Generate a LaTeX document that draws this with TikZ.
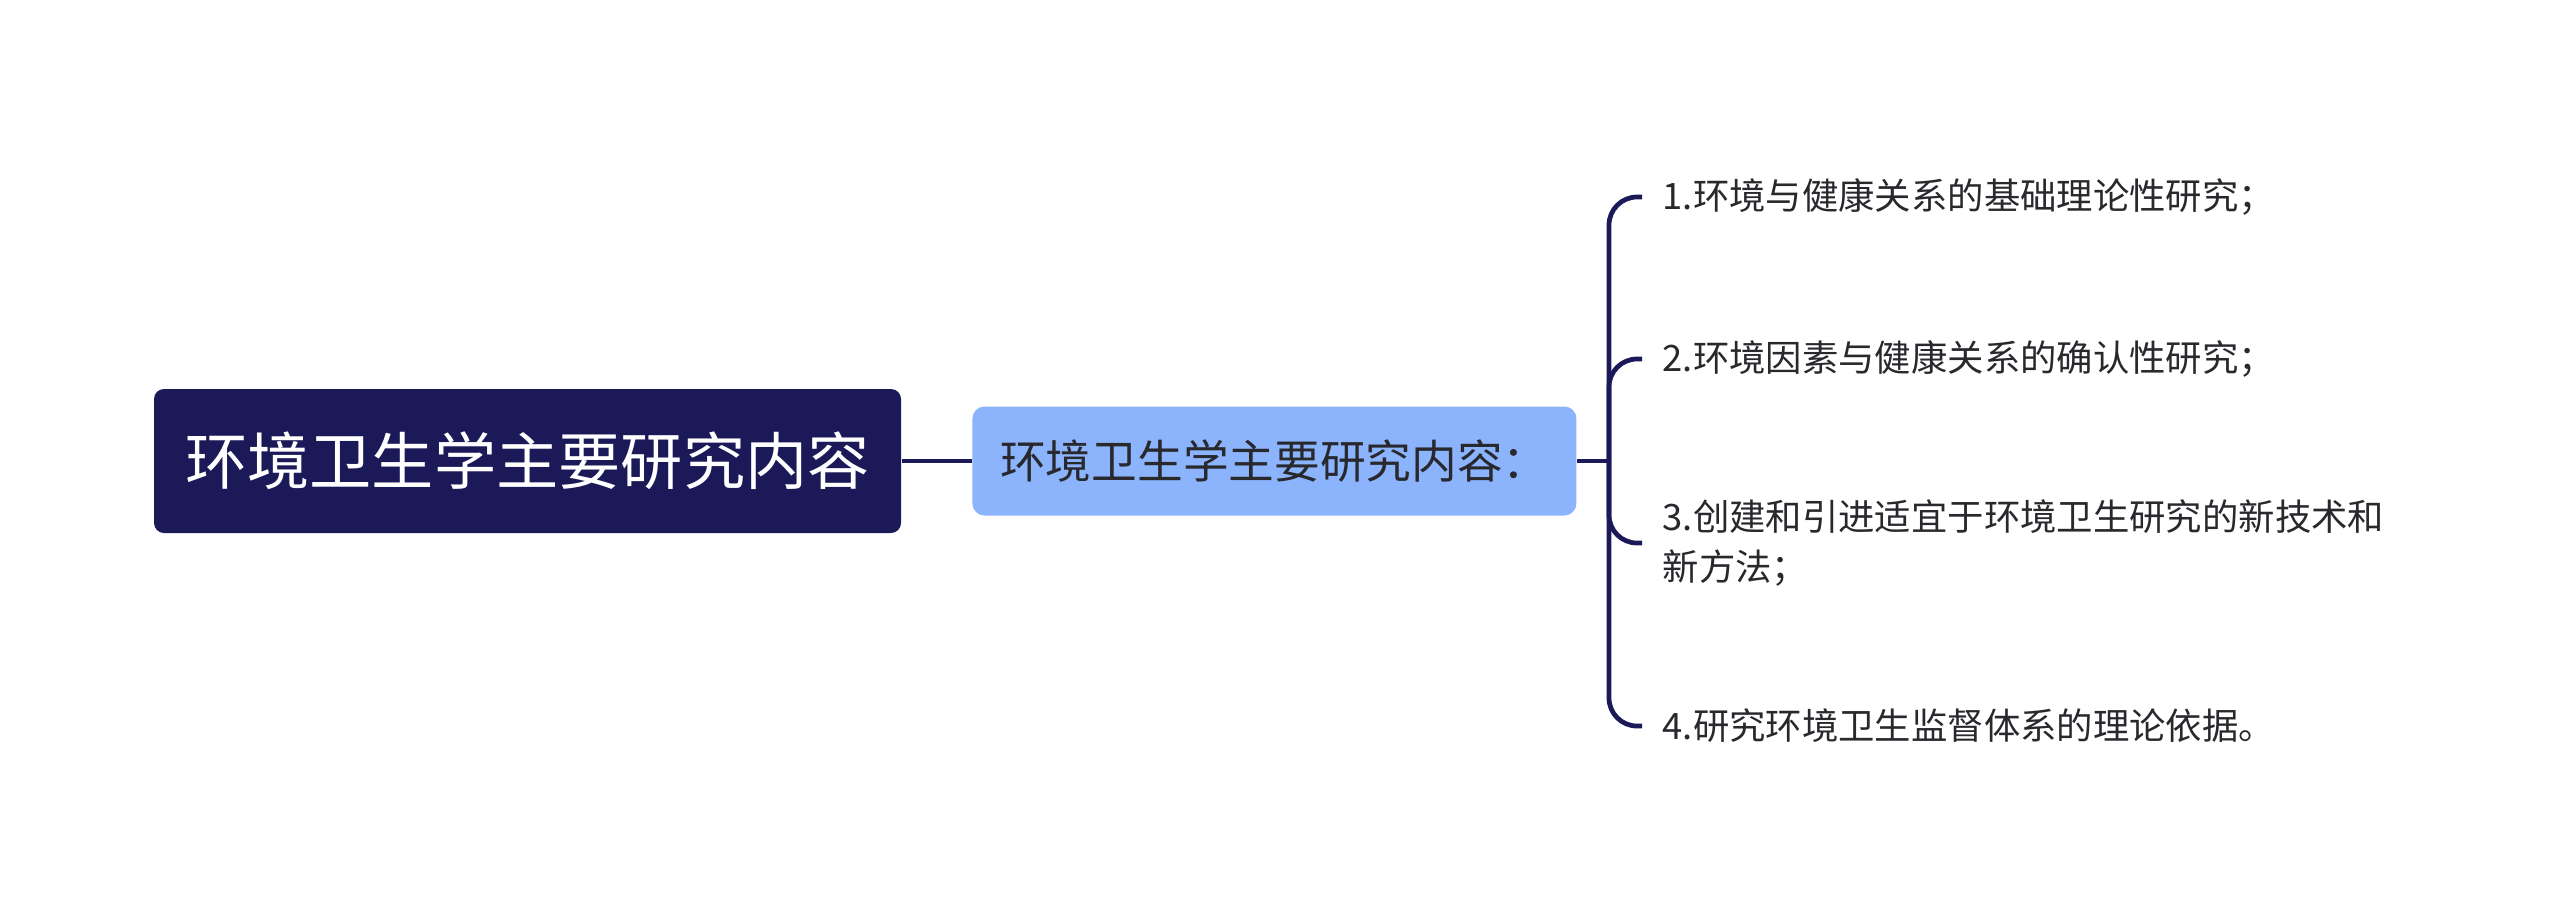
\documentclass[tikz,border=0pt]{standalone}
\usepackage{fontspec}
\setmainfont{Noto Sans CJK SC}
\usepackage{xcolor}
\usepackage{tikz}
\usetikzlibrary{positioning, calc}
\definecolor{mapnavy}{RGB}{27, 25, 88}
\definecolor{mapblue}{RGB}{139, 180, 253}
\definecolor{maptext}{RGB}{40, 40, 45}
\tikzset{
    topic/.style={rectangle, rounded corners=0.1cm, fill=mapnavy, text=white, inner sep=0pt, minimum width=7.47cm, minimum height=1.44cm, text centered, font=\fontsize{17.7pt}{21pt}\selectfont},
    subtopic/.style={rectangle, rounded corners=0.12cm, fill=mapblue, text=maptext, inner sep=0pt, minimum width=6.04cm, minimum height=1.09cm, text centered, font=\fontsize{13pt}{16pt}\selectfont},
    leaf/.style={anchor=west, inner xsep=0.2cm, align=left, text=maptext, font=\fontsize{10.35pt}{14pt}\selectfont},
    link/.style={draw=mapnavy, line width=1.35pt},
    fork/.style={link, rounded corners=0.28cm}
}
\begin{document}
\begin{tikzpicture}[node distance=0.7cm]
    \useasboundingbox (0,0) rectangle (25.6,-9.23);
    \node (root) [topic] at (5.275,-4.61) {环境卫生学主要研究内容};
    \node (sub) [subtopic, right=0.7cm of root] {环境卫生学主要研究内容：};
    \coordinate (split) at (16.09,-4.61);

    \node (item1) [leaf] at (16.42,-1.97) {1.环境与健康关系的基础理论性研究；};
    \node (item2) [leaf] at (16.42,-3.59) {2.环境因素与健康关系的确认性研究；};
    \node (item3) [leaf] at (16.42,-5.43) {3.创建和引进适宜于环境卫生研究的新技术和\\新方法；};
    \node (item4) [leaf] at (16.42,-7.26) {4.研究环境卫生监督体系的理论依据。};

    \draw [link] (root) -- (sub);
    \draw [link] (sub) -- (split);
    \foreach \n in {item1, item2, item3, item4}
        \draw [fork] (split) |- (\n.west);
\end{tikzpicture}
\end{document}
